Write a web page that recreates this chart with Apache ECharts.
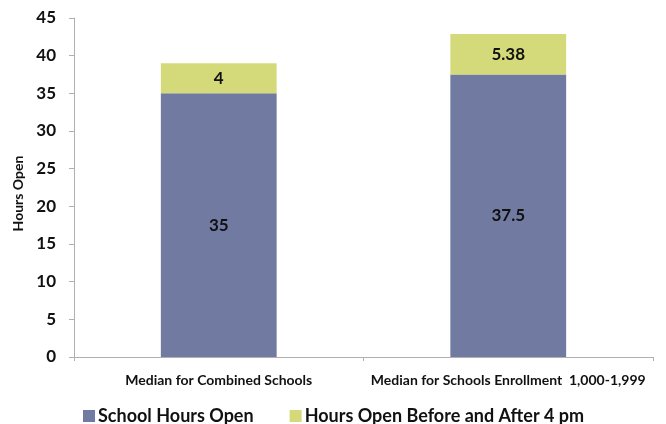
<!DOCTYPE html>
<html><head><meta charset="utf-8">
<script src="https://cdn.jsdelivr.net/npm/echarts@6/dist/echarts.min.js"></script>
<style>html,body{margin:0;padding:0;background:#fff}#c{width:666px;height:424px}</style>
</head><body><div id="c"></div>
<script>
const categories = ['Median for Combined Schools', 'Median for Schools Enrollment  1,000-1,999'];
const schoolHours = [35, 37.5];
const extraHours = [4, 5.38];
const yTicks = {min: 0, max: 45, interval: 5};
const seriesNames = ['School Hours Open', 'Hours Open Before and After 4 pm'];

const font = 'Lato, Open Sans, sans-serif';
const chart = echarts.init(document.getElementById('c'), null, {renderer: 'canvas'});
chart.setOption({
  animation: false,
  grid: {left: 74, right: 13, top: 18, bottom: 67},
  legend: {
    top: 402, left: 78, itemGap: 36, itemWidth: 12, itemHeight: 12, icon: 'rect',
    textStyle: {fontFamily: font, fontWeight: 'bold', fontSize: 18, color: '#111', padding: [0,0,0,-2]},
    data: seriesNames
  },
  xAxis: {
    type: 'category', data: categories,
    axisLine: {lineStyle: {color: '#b0b0b0'}},
    axisTick: {show: true, length: 4, lineStyle: {color: '#b0b0b0'}},
    axisLabel: {interval: 0, fontFamily: font, fontWeight: 'bold', fontSize: 14, color: '#111', margin: 16}
  },
  yAxis: {
    type: 'value', min: yTicks.min, max: yTicks.max, interval: yTicks.interval,
    name: 'Hours Open', nameLocation: 'middle', nameGap: 49, nameRotate: 90,
    nameTextStyle: {fontFamily: font, fontWeight: 'bold', fontSize: 14, color: '#111', padding: [0, 0, 0, -12]},
    axisLine: {show: true, lineStyle: {color: '#b0b0b0'}},
    axisTick: {show: true, length: 5, lineStyle: {color: '#b0b0b0'}},
    splitLine: {show: false},
    axisLabel: {fontFamily: font, fontWeight: 'bold', fontSize: 17, color: '#111', margin: 18}
  },
  series: [
    {name: seriesNames[0], type: 'bar', stack: 's', data: schoolHours, barWidth: '40%',
     itemStyle: {color: '#717ba1'},
     label: {show: true, position: 'inside', fontFamily: font, fontWeight: 'bold', fontSize: 17, color: '#111'}},
    {name: seriesNames[1], type: 'bar', stack: 's', data: extraHours, barWidth: '40%',
     itemStyle: {color: '#d4da7a'},
     label: {show: true, position: 'inside', fontFamily: font, fontWeight: 'bold', fontSize: 17, color: '#111'}}
  ]
});
</script></body></html>
